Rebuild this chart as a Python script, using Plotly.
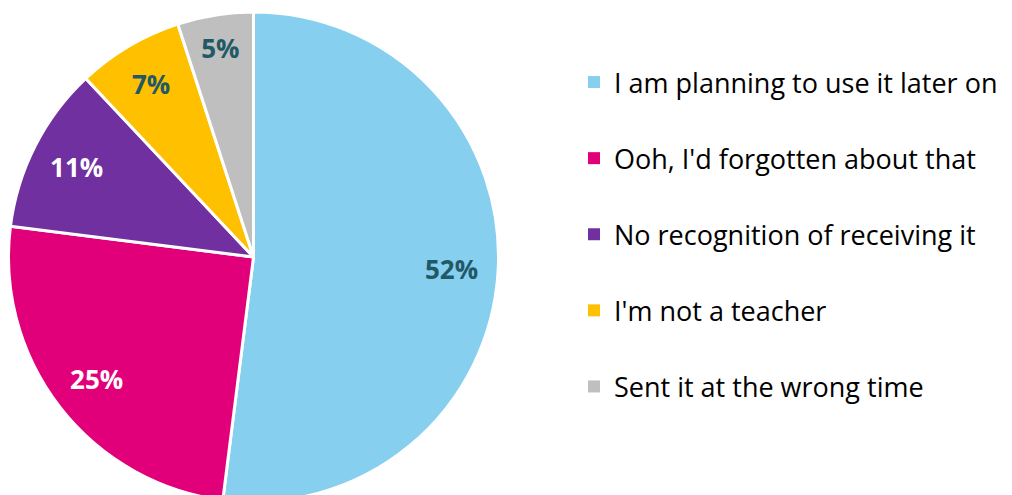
import plotly.graph_objects as go

categories = [
    "I am planning to use it later on",
    "Ooh, I'd forgotten about that",
    "No recognition of receiving it",
    "I'm not a teacher",
    "Sent it at the wrong time",
]
values = [52, 25, 11, 7, 5]
colors = ["#86CFEF", "#E2007A", "#7030A0", "#FFC000", "#BFBFBF"]
label_colors = ["#215967", "#FFFFFF", "#FFFFFF", "#215967", "#215967"]

W, H = 1012, 495
pie_domain = dict(x=[0.5 / W, 490.5 / W], y=[0, 1 - 3 / H])

fig = go.Figure()

# Main pie (slices)
fig.add_trace(go.Pie(
    labels=categories,
    values=values,
    sort=False,
    direction="clockwise",
    rotation=0,
    marker=dict(colors=colors, line=dict(color="white", width=3)),
    textinfo="none",
    domain=pie_domain,
    showlegend=False,
    hoverinfo="label+percent",
))

# Same data as a transparent ring carrying the percentage labels near the rim
fig.add_trace(go.Pie(
    labels=categories,
    values=values,
    sort=False,
    direction="clockwise",
    rotation=0,
    hole=0.62,
    marker=dict(colors=["rgba(0,0,0,0)"] * len(values), line=dict(width=0)),
    textinfo="percent",
    texttemplate="%{percent:.0%}",
    textposition="inside",
    insidetextorientation="horizontal",
    textfont=dict(family="Open Sans", size=26, color=label_colors, weight="bold"),
    domain=pie_domain,
    showlegend=False,
    hoverinfo="skip",
))

# Legend entries (one per category, spaced like the original)
for cat, col in zip(categories, colors):
    fig.add_trace(go.Scatter(
        x=[None], y=[None], mode="markers", name=cat,
        marker=dict(symbol="square", color=col, size=13),
        legendgroup=cat, showlegend=True, hoverinfo="skip",
    ))

fig.update_layout(
    width=W, height=H,
    margin=dict(l=0, r=0, t=0, b=0),
    paper_bgcolor="white",
    plot_bgcolor="white",
    xaxis=dict(visible=False),
    yaxis=dict(visible=False),
    legend=dict(
        x=566 / W, xanchor="left",
        y=1 - 50 / H, yanchor="top",
        font=dict(family="Open Sans", size=27, color="#000000"),
        tracegroupgap=38,
        itemsizing="constant",
        bgcolor="rgba(0,0,0,0)",
    ),
)

fig.write_html("out.html")
